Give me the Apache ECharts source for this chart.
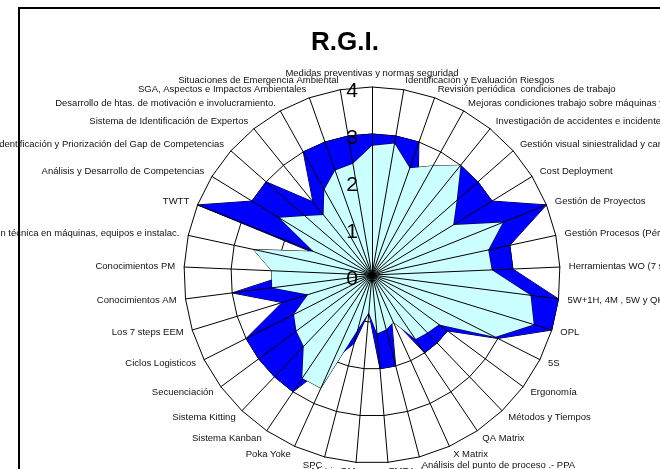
<!DOCTYPE html>
<html>
<head>
<meta charset="utf-8">
<script src="https://cdn.jsdelivr.net/npm/echarts@6/dist/echarts.min.js"></script>
<style>
  html, body { margin: 0; padding: 0; background: #fff; }
  #chart { width: 660px; height: 469px; }
</style>
</head>
<body>
<div id="chart"></div>
<script>
// clockwise from the top, as in the original sheet
const categories = [
  'Medidas preventivas y normas seguridad',
  'Identificación y Evaluación Riesgos',
  'Revisión periódica  condiciones de trabajo',
  'Mejoras condiciones trabajo sobre máquinas y equipos',
  'Investigación de accidentes e incidentes',
  'Gestión visual siniestralidad y campañas',
  'Cost Deployment',
  'Gestión de Proyectos',
  'Gestión Procesos (Pérdidas)',
  'Herramientas WO (7 steps)',
  '5W+1H, 4M , 5W y QK',
  'OPL',
  '5S',
  'Ergonomía',
  'Métodos y Tiempos',
  'QA Matrix',
  'X Matrix',
  'Análisis del punto de proceso .- PPA',
  'FMEA de procesos',
  'Matriz QM',
  'SPC',
  'Poka Yoke',
  'Sistema Kanban',
  'Sistema Kitting',
  'Secuenciación',
  'Ciclos Logisticos',
  'Los 7 steps EEM',
  'Conocimientos AM',
  'Conocimientos PM',
  'Formación técnica en máquinas, equipos e instalac.',
  'TWTT',
  'Análisis y Desarrollo de Competencias',
  'Identificación y Priorización del Gap de Competencias',
  'Sistema de Identificación de Expertos',
  'Desarrollo de htas. de motivación e involucramiento.',
  'SGA, Aspectos e Impactos Ambientales',
  'Situaciones de Emergencia Ambiental'
];
const objetivo = [3, 3, 3, 2, 3, 3, 3, 4, 3, 3, 4, 4, 3, 2, 2, 2, 1, 2, 2, 0.8, 1.5, 2,
  3, 3, 3, 3, 2, 3, 1.6, 0.2, 4, 3, 3, 2, 3, 3, 3];
const real = [2.75, 2.84, 2.41, 2.66, 3, 2.4, 2.03, 3, 2.53, 2.55, 3.4, 3.6, 2.93, 1.77, 1.7, 1.65,
  1.1, 1.2, 1.25, 0.8, 1.2, 2.64, 2.65, 2.1, 2, 1.86, 1.42, 2.14, 2.14, 2.58, 1.34, 2.32, 1.9,
  1.64, 2.08, 2.36, 2.4];
const tickLabels = ['0', '1', '2', '3', '4'];
const maxValue = 4;

// echarts lays indicators out counter-clockwise, so flip everything after the first
const order = categories.map((c, i) => (i === 0 ? 0 : categories.length - i));
const pick = arr => order.map(i => arr[i]);

const font = 'Arial, "Liberation Sans", sans-serif';
const center = [372, 275];
const radius = 188;

const chart = echarts.init(document.getElementById('chart'));
chart.setOption({
  backgroundColor: '#fff',
  animation: false,
  title: {
    text: 'R.G.I.',
    left: 340,
    top: 25,
    textAlign: 'center',
    textStyle: { fontSize: 26, fontWeight: 'bold', color: '#000', fontFamily: font }
  },
  graphic: [{
    type: 'rect',
    z: 0,
    shape: { x: 19, y: 8, width: 720, height: 520 },
    style: { fill: null, stroke: '#000', lineWidth: 2 }
  }],
  radar: [
    {
      center: center,
      radius: radius,
      startAngle: 90,
      shape: 'polygon',
      splitNumber: 4,
      indicator: order.map(i => ({ name: categories[i], min: 0, max: maxValue })),
      nameGap: 9,
      axisName: { color: '#111', fontSize: 9.5, fontFamily: font },
      splitLine: { lineStyle: { color: '#000', width: 1 } },
      splitArea: { show: false },
      axisLine: { show: false },
      axisTick: { show: false },
      axisLabel: { show: false }
    },
    {
      // spokes and the 0..4 scale drawn over the filled areas
      center: center,
      radius: radius,
      startAngle: 90,
      shape: 'polygon',
      splitNumber: 4,
      z: 5,
      indicator: order.map((i, k) => ({
        name: '',
        min: 0,
        max: maxValue,
        axisLabel: k === 0 ? { show: true } : undefined
      })),
      axisName: { show: false },
      splitLine: { show: false },
      splitArea: { show: false },
      axisTick: { show: false },
      axisLine: { lineStyle: { color: '#000', width: 1 } },
      axisLabel: {
        show: false,
        fontSize: 21,
        color: '#000',
        fontFamily: font,
        margin: 14,
        verticalAlign: 'top',
        lineHeight: 8,
        formatter: v => tickLabels[Math.round(v)]
      }
    }
  ],
  series: [
    {
      name: 'Objetivo',
      type: 'radar',
      radarIndex: 0,
      symbol: 'none',
      lineStyle: { color: '#000', width: 1 },
      areaStyle: { color: '#0000FF', opacity: 1 },
      data: [{ value: pick(objetivo) }]
    },
    {
      name: 'Real',
      type: 'radar',
      radarIndex: 0,
      symbol: 'none',
      lineStyle: { color: '#000', width: 1 },
      areaStyle: { color: '#CCFFFF', opacity: 1 },
      data: [{ value: pick(real) }]
    }
  ]
});
</script>
</body>
</html>
